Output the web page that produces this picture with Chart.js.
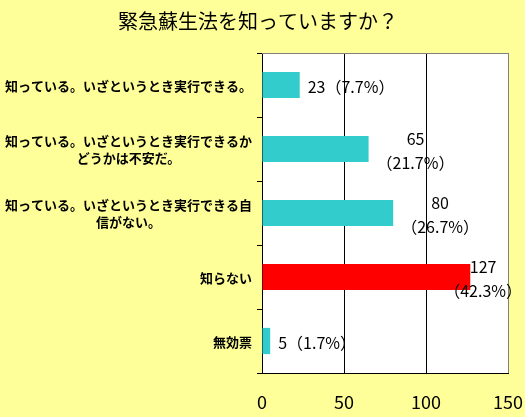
<!DOCTYPE html>
<html><head><meta charset="utf-8">
<script src="https://cdn.jsdelivr.net/npm/chart.js@4/dist/chart.umd.min.js"></script>
<style>html,body{margin:0;padding:0;background:#FFFF99;overflow:hidden}</style>
</head><body>
<canvas id="c" width="525" height="417" style="display:block;width:525px;height:417px"></canvas>
<script>
const titleText = '緊急蘇生法を知っていますか？';
const categories = [
  ['知っている。いざというとき実行できる。'],
  ['知っている。いざというとき実行できるか', 'どうかは不安だ。'],
  ['知っている。いざというとき実行できる自', '信がない。'],
  ['知らない'],
  ['無効票']
];
const counts = [23, 65, 80, 127, 5];
const percents = ['7.7', '21.7', '26.7', '42.3', '1.7'];
const wrapLabel = [false, true, true, true, false];
const barColors = ['#33CCCC', '#33CCCC', '#33CCCC', '#FF0000', '#33CCCC'];
const xMin = 0, xMax = 150, xStep = 50;

const JP = '"Noto Sans CJK JP", "Noto Sans", sans-serif';

const deco = {
  id: 'deco',
  beforeDraw(chart) {
    const { ctx, chartArea: a } = chart;
    ctx.save();
    ctx.fillStyle = '#FFFF99';
    ctx.fillRect(0, 0, chart.width, chart.height);
    ctx.fillStyle = '#FFFFFF';
    ctx.fillRect(a.left, a.top, a.right - a.left, a.bottom - a.top);
    ctx.restore();
  },
  afterDatasetsDraw(chart) {
    const { ctx } = chart;
    const meta = chart.getDatasetMeta(0);
    ctx.save();
    ctx.font = '16px ' + JP;
    ctx.fillStyle = '#000';
    ctx.textAlign = 'center';
    ctx.textBaseline = 'middle';
    meta.data.forEach((el, i) => {
      const lines = wrapLabel[i]
        ? [String(counts[i]), '（' + percents[i] + '%）']
        : [counts[i] + '（' + percents[i] + '%）'];
      const w = Math.max(...lines.map(l => ctx.measureText(l).width));
      let left = el.x + 8;
      if (left + w > chart.width - 3) left = chart.width - 3 - w;
      const cx = left + w / 2;
      const lh = 24;
      const y0 = el.y - (lines.length - 1) * lh / 2 + 2;
      lines.forEach((l, k) => ctx.fillText(l, cx, y0 + k * lh));
    });
    ctx.restore();
  },
  afterDraw(chart) {
    const { ctx, chartArea: a } = chart;
    const ys = chart.scales.y;
    ctx.save();
    ctx.strokeStyle = '#808080';
    ctx.lineWidth = 1;
    ctx.beginPath();
    ctx.moveTo(a.left, a.top + 0.5);
    ctx.lineTo(a.right, a.top + 0.5);
    ctx.stroke();
    ctx.fillStyle = '#000';
    ctx.font = '20px ' + JP;
    ctx.textAlign = 'center';
    ctx.textBaseline = 'middle';
    ctx.fillText(titleText, 258, 21);
    ctx.font = 'bold 13px ' + JP;
    categories.forEach((lines, i) => {
      const y = ys.getPixelForValue(i);
      const w = Math.max(...lines.map(l => ctx.measureText(l).width));
      const cx = a.left - 10 - w / 2;
      const lh = 17;
      const y0 = y - (lines.length - 1) * lh / 2 + 1;
      lines.forEach((l, k) => ctx.fillText(l, cx, y0 + k * lh));
    });
    ctx.restore();
  }
};

new Chart(document.getElementById('c'), {
  type: 'bar',
  data: {
    labels: categories.map(l => l.join('')),
    datasets: [{
      data: counts,
      backgroundColor: barColors,
      borderWidth: 0,
      barPercentage: 0.41,
      categoryPercentage: 1.0
    }]
  },
  options: {
    indexAxis: 'y',
    responsive: false,
    animation: false,
    devicePixelRatio: 1,
    layout: { padding: { top: 53, left: 257, right: 17, bottom: 0 } },
    plugins: { legend: { display: false }, title: { display: false }, tooltip: { enabled: false } },
    scales: {
      y: {
        type: 'category',
        ticks: { display: false },
        grid: { offset: true, drawOnChartArea: false, drawTicks: true, tickLength: 5, color: '#000' },
        border: { color: '#000', width: 1 },
        afterFit: s => { s.width = 5; s.paddingTop = 0; s.paddingBottom = 0; }
      },
      x: {
        min: xMin, max: xMax,
        ticks: { stepSize: xStep, color: '#000', font: { size: 18, family: JP }, padding: 18 },
        grid: {
          drawTicks: false,
          color: c => c.tick && c.tick.value === xMax ? '#808080' : (c.tick && c.tick.value === xMin ? 'rgba(0,0,0,0)' : '#000'),
          lineWidth: 1
        },
        border: { color: '#000', width: 1 },
        afterFit: s => { s.height = 44; s.paddingLeft = 0; s.paddingRight = 0; }
      }
    }
  },
  plugins: [deco]
});
</script>
</body></html>
